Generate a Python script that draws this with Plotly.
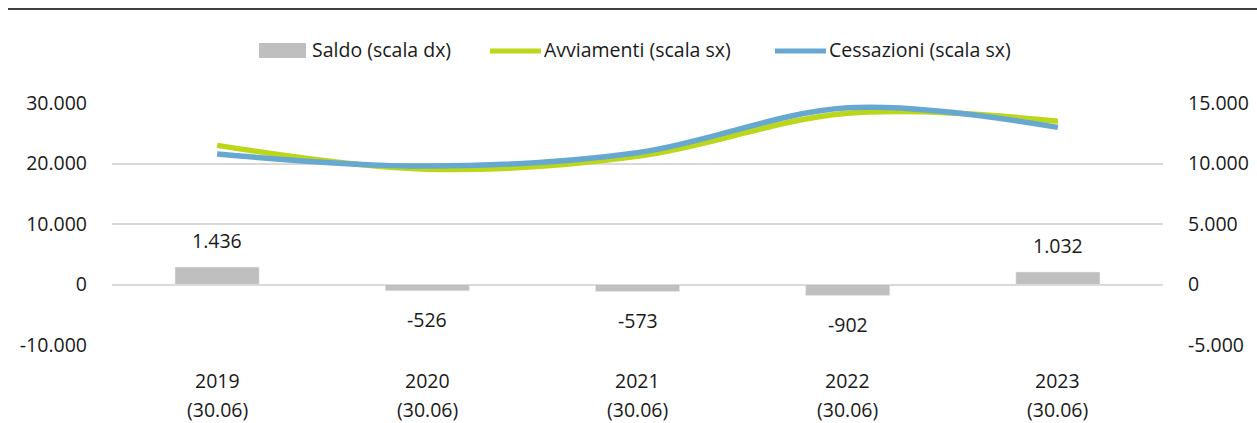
import plotly.graph_objects as go

# ---- data ----
categories = ["2019", "2020", "2021", "2022", "2023"]
sublabels = ["(30.06)", "(30.06)", "(30.06)", "(30.06)", "(30.06)"]
saldo = [1436, -526, -573, -902, 1032]
saldo_labels = ["1.436", "-526", "-573", "-902", "1.032"]
avviamenti = [23000, 19050, 21200, 28300, 27000]
cessazioni = [21564, 19576, 21773, 29202, 25968]

left_ticks = [-10000, 0, 10000, 20000, 30000]
left_ticktext = ["-10.000", "0", "10.000", "20.000", "30.000"]
right_ticks = [-5000, 0, 5000, 10000, 15000]
right_ticktext = ["-5.000", "0", "5.000", "10.000", "15.000"]

FONT = "Open Sans"
FS = 19.5
TXT = "#1a1a1a"
GREY = "#bfbfbf"
GREEN = "#bcd71a"
BLUE = "#66a8d0"

W, H = 1257, 423
L, R, T, B = 112, 94, 103, 78
PW = W - L - R
PH = H - T - B


def px(x):
    return (x - L) / PW


def py(y):
    return (H - B - y) / PH


fig = go.Figure()
fig.add_trace(go.Bar(x=categories, y=saldo, yaxis="y2", marker_color=GREY,
                     width=0.4, name="Saldo (scala dx)", showlegend=False))
fig.add_trace(go.Scatter(x=categories, y=avviamenti, mode="lines",
                         line=dict(color=GREEN, width=5.5, shape="spline", smoothing=1),
                         name="Avviamenti (scala sx)", showlegend=False))
fig.add_trace(go.Scatter(x=categories, y=cessazioni, mode="lines",
                         line=dict(color=BLUE, width=5.5, shape="spline", smoothing=1),
                         name="Cessazioni (scala sx)", showlegend=False))

annotations = []
# category index positions (category axis: index i == categories[i])
for i, (v, t) in enumerate(zip(saldo, saldo_labels)):
    annotations.append(dict(x=i, y=v, xref="x", yref="y2", text=t, showarrow=False,
                            yanchor="middle", yshift=(27 if v > 0 else -29),
                            font=dict(family=FONT, size=FS, color=TXT)))
for i, (c, s) in enumerate(zip(categories, sublabels)):
    annotations.append(dict(x=i, y=py(380), xref="x", yref="paper", text=c, showarrow=False,
                            yanchor="middle", font=dict(family=FONT, size=FS, color=TXT)))
    annotations.append(dict(x=i, y=py(424), xref="x", yref="paper", text=s, showarrow=False,
                            yanchor="bottom", borderpad=0,
                            font=dict(family=FONT, size=FS, color=TXT)))

# custom legend
legend_items = [
    ("box", GREY, 259, 306, 310, "Saldo (scala dx)"),
    ("line", GREEN, 490, 541, 542, "Avviamenti (scala sx)"),
    ("line", BLUE, 775, 826, 827, "Cessazioni (scala sx)"),
]
shapes = []
for kind, col, x0, x1, xt, label in legend_items:
    if kind == "box":
        shapes.append(dict(type="rect", xref="paper", yref="paper", x0=px(x0), x1=px(x1),
                           y0=py(58), y1=py(43), fillcolor=col, line=dict(width=0)))
    else:
        shapes.append(dict(type="line", xref="paper", yref="paper", x0=px(x0), x1=px(x1),
                           y0=py(51), y1=py(51), line=dict(color=col, width=5)))
    annotations.append(dict(x=px(xt), y=py(50), xref="paper", yref="paper", text=label,
                            showarrow=False, xanchor="left", yanchor="middle",
                            font=dict(family=FONT, size=FS, color=TXT)))

# top rule
shapes.append(dict(type="line", xref="paper", yref="paper", x0=px(8), x1=px(1257),
                   y0=py(9), y1=py(9), line=dict(color="#000000", width=1.5)))

fig.update_layout(
    width=W, height=H,
    margin=dict(l=L, r=R, t=T, b=B, pad=0, autoexpand=False),
    paper_bgcolor="white", plot_bgcolor="white",
    font=dict(family=FONT, size=FS, color=TXT),
    xaxis=dict(type="category", range=[-0.5, len(categories) - 0.5], autorange=False,
               showticklabels=False, showgrid=False, zeroline=False,
               showline=False, ticks="", automargin=False),
    yaxis=dict(range=[-10000, 30000], tickvals=left_ticks, ticktext=left_ticktext,
               showgrid=True, gridcolor="#d9d9d9", gridwidth=1.5, zeroline=False,
               showline=False, ticks="", ticklabelstandoff=24, automargin=False,
               tickfont=dict(family=FONT, size=FS, color=TXT)),
    yaxis2=dict(range=[-5000, 15000], tickvals=right_ticks, ticktext=right_ticktext,
                overlaying="y", side="right", showgrid=False, zeroline=False,
                showline=False, ticks="", ticklabelstandoff=24, automargin=False,
                tickfont=dict(family=FONT, size=FS, color=TXT)),
    shapes=shapes,
    annotations=annotations,
)

fig.write_html("out.html")
